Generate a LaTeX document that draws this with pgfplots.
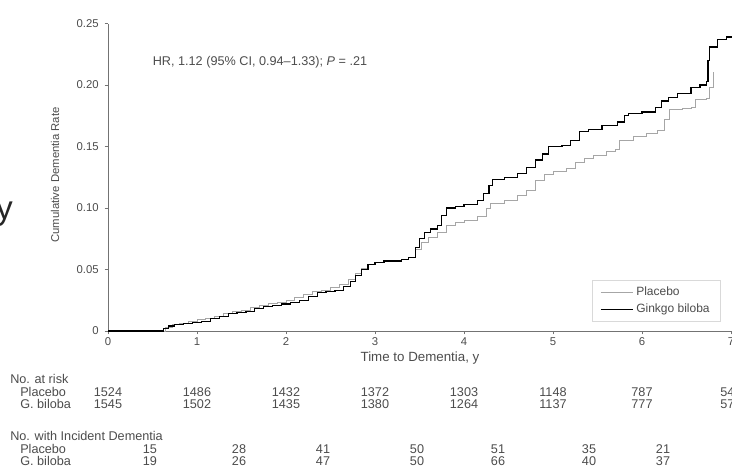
\documentclass[border=0pt]{standalone}
\usepackage{pgfplots}
\pgfplotsset{compat=1.18}
\usepackage{fontspec}
\setmainfont{Liberation Sans}

% Cumulative dementia incidence, G. biloba vs placebo
\pgfplotstableread{
t r
0 0
0.55 0
0.65 0.003
0.72 0.005
0.80 0.006
0.90 0.008
1.00 0.009
1.10 0.010
1.20 0.012
1.30 0.014
1.40 0.016
1.50 0.017
1.60 0.019
1.70 0.021
1.80 0.022
1.90 0.023
2.00 0.025
2.10 0.027
2.20 0.030
2.30 0.032
2.40 0.033
2.50 0.035
2.60 0.038
2.70 0.042
2.78 0.047
2.85 0.051
2.92 0.054
3.00 0.056
3.10 0.057
3.30 0.058
3.38 0.060
3.45 0.066
3.52 0.072
3.60 0.076
3.70 0.080
3.80 0.086
3.90 0.088
4.00 0.090
4.15 0.093
4.25 0.100
4.30 0.104
4.45 0.106
4.60 0.110
4.70 0.114
4.80 0.122
4.90 0.127
5.00 0.130
5.15 0.132
5.25 0.137
5.35 0.140
5.45 0.143
5.60 0.146
5.70 0.148
5.75 0.155
5.90 0.158
6.05 0.161
6.17 0.163
6.25 0.172
6.31 0.180
6.45 0.181
6.56 0.182
6.60 0.188
6.72 0.189
6.76 0.198
6.80 0.211
}\placebo

\pgfplotstableread{
t r
0 0
0.55 0
0.62 0.002
0.68 0.004
0.75 0.005
0.85 0.006
0.95 0.007
1.05 0.008
1.15 0.010
1.25 0.012
1.35 0.014
1.45 0.015
1.55 0.016
1.65 0.018
1.75 0.020
1.85 0.021
1.95 0.022
2.05 0.023
2.15 0.025
2.25 0.028
2.35 0.031
2.45 0.032
2.55 0.033
2.65 0.036
2.72 0.040
2.78 0.045
2.85 0.050
2.92 0.054
3.00 0.056
3.10 0.057
3.30 0.058
3.38 0.060
3.45 0.068
3.50 0.075
3.56 0.080
3.62 0.083
3.70 0.086
3.75 0.094
3.80 0.100
3.90 0.101
4.00 0.103
4.15 0.106
4.22 0.112
4.28 0.118
4.32 0.123
4.45 0.125
4.60 0.128
4.70 0.133
4.80 0.139
4.88 0.144
4.95 0.150
5.10 0.151
5.20 0.155
5.30 0.162
5.40 0.164
5.55 0.167
5.72 0.170
5.80 0.175
5.85 0.177
6.00 0.178
6.15 0.182
6.22 0.187
6.30 0.190
6.40 0.193
6.55 0.198
6.65 0.200
6.72 0.203
6.74 0.220
6.76 0.231
6.85 0.237
6.95 0.239
7.10 0.239
}\ginkgo

\begin{document}
\begin{tikzpicture}[x=0.75pt,y=0.75pt,
  lbl/.style={font=\fontsize{9.5}{11}\selectfont, text=black!70, inner sep=0pt}]
\useasboundingbox (0,0) rectangle (732,-472);
\clip (0,0) rectangle (732,-472);

\begin{axis}[
  at={(81pt,-248.25pt)}, anchor=origin,
  scale only axis, width=474pt, height=230.6pt,
  xmin=0, xmax=7.1, ymin=0, ymax=0.25,
  axis lines=left,
  axis line style={-, black!55, line width=0.5pt},
  tick style={black!55, line width=0.4pt},
  tick align=outside, major tick length=2.5pt,
  xtick={0,1,2,3,4,5,6,7},
  xticklabels={0,1,2,3,4,5,6,7},
  ytick={0,0.05,0.10,0.15,0.20,0.25},
  yticklabels={0,0.05,0.10,0.15,0.20,0.25},
  ticklabel style={font=\fontsize{8.5}{10}\selectfont, text=black!70},
  xticklabel style={yshift=1pt},
  yticklabel style={xshift=-1pt},
  legend style={at={(0.766,0.166)}, anchor=north west,
    draw=black!15, fill=white, font=\fontsize{9}{10.5}\selectfont,
    text=black!70, inner xsep=6pt, inner ysep=3pt, row sep=1pt},
  legend cell align=left,
  legend image code/.code={\draw[#1] (0pt,0pt) -- (24pt,0pt);},
]
\addplot[const plot, black!35, line width=0.7pt] table[x=t,y=r] {\placebo};
\addlegendentry{Placebo}
\addplot[const plot, black, line width=0.9pt] table[x=t,y=r] {\ginkgo};
\addlegendentry{Ginkgo biloba}
\end{axis}

% axis titles and annotation
\node[lbl, rotate=90, font=\fontsize{8.5}{10}\selectfont] at (55,-175) {Cumulative Dementia Rate};
\node[lbl, font=\fontsize{10}{12}\selectfont] at (420,-358) {Time to Dementia, y};
\node[lbl] at (260,-62) {HR, 1.12 (95\% CI, 0.94--1.33); \textit{P} = .21};
\node[anchor=base east, inner sep=0pt, text=black!85,
  font=\fontsize{25}{30}\selectfont] at (13,-219) {y};

% numbers at risk
\node[lbl, anchor=west] at (10,-379) {No. at risk};
\node[lbl, anchor=west] at (20,-392) {Placebo};
\node[lbl, anchor=west] at (20,-404) {G. biloba};
\foreach \k/\p/\g in {0/1524/1545, 1/1486/1502, 2/1432/1435, 3/1372/1380,
                      4/1303/1264, 5/1148/1137, 6/787/777, 7/541/577} {
  \node[lbl] at ({108+89*\k},-392) {\p};
  \node[lbl] at ({108+89*\k},-404) {\g};
}

% incident dementia per interval
\node[lbl, anchor=west] at (10,-436) {No. with Incident Dementia};
\node[lbl, anchor=west] at (20,-449) {Placebo};
\node[lbl, anchor=west] at (20,-461) {G. biloba};
\foreach \x/\p/\g in {150/15/19, 239/28/26, 323/41/47, 417/50/50,
                      498/51/66, 589/35/40, 663/21/37} {
  \node[lbl] at (\x,-449) {\p};
  \node[lbl] at (\x,-461) {\g};
}
\end{tikzpicture}
\end{document}
